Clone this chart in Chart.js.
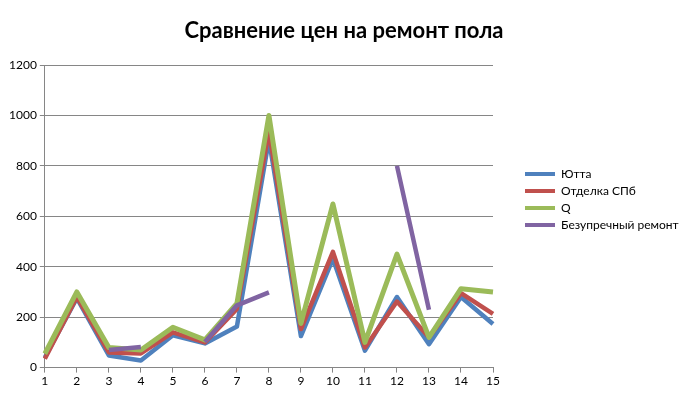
<!DOCTYPE html>
<html><head><meta charset="utf-8">
<script src="https://cdn.jsdelivr.net/npm/chart.js@4"></script>
<style>html,body{margin:0;padding:0;background:#fff}#w{width:689px;height:398px}</style>
</head><body><div id="w"><canvas id="c"></canvas></div>
<script>
const categories = ['1','2','3','4','5','6','7','8','9','10','11','12','13','14','15'];
const yutta   = [40, 275, 48, 28, 128, 96, 163, 905, 125, 432, 67, 280, 93, 280, 173];
const otdelka = [35, 280, 60, 56, 140, 100, 233, 938, 153, 459, 80, 262, 120, 295, 213];
const q       = [55, 300, 80, 70, 160, 110, 255, 1000, 175, 649, 100, 450, 120, 313, 300];
const bezupr  = [null, null, 70, 82, null, 102, 247, 298, null, null, null, 800, 229, null, null];
const seriesNames = ['Ютта', 'Отделка СПб', 'Q', 'Безупречный ремонт'];
const colors = ['#4F81BD', '#C0504D', '#9BBB59', '#8064A2'];
const yTicks = [0, 200, 400, 600, 800, 1000, 1200];
const titleText = 'Сравнение цен на ремонт пола';

const decorPlugin = {
  id: 'decor',
  afterDraw(chart) {
    const ctx = chart.ctx;
    ctx.save();
    ctx.font = 'bold 22px Lato, "DejaVu Sans", sans-serif';
    ctx.textAlign = 'center';
    ctx.textBaseline = 'middle';
    ctx.fillStyle = '#000';
    ctx.fillText(titleText, 344, 31);
    ctx.textAlign = 'left';
    ctx.font = '12px Lato, "DejaVu Sans", sans-serif';
    chart.data.datasets.forEach((ds, i) => {
      const y = 174 + i * 17;
      ctx.fillStyle = ds.borderColor;
      ctx.fillRect(525, y - 2, 30, 4);
      ctx.fillStyle = '#000';
      ctx.fillText(ds.label, 561, y);
    });
    ctx.restore();
  }
};

const data = [yutta, otdelka, q, bezupr];
new Chart(document.getElementById('c'), {
  type: 'line',
  data: {
    labels: categories,
    datasets: data.map((d, i) => ({
      label: seriesNames[i], data: d, borderColor: colors[i], backgroundColor: colors[i],
      borderWidth: i === 2 ? 5 : 4.5, pointRadius: 0, tension: 0, spanGaps: false,
      borderJoinStyle: 'round',
      order: [3, 2, 1, 0][i]
    }))
  },
  options: {
    responsive: true, maintainAspectRatio: false, animation: false,
    layout: { padding: { left: 6, right: 196, top: 65, bottom: 9 } },
    plugins: {
      legend: { display: false },
      tooltip: { enabled: false },
      title: { display: false }
    },
    scales: {
      x: {
        offset: false,
        grid: { display: true, drawOnChartArea: false, drawTicks: true, tickLength: 5, color: '#868686' },
        border: { color: '#868686', width: 1 },
        ticks: { color: '#000', font: { family: 'Lato, sans-serif', size: 12 }, padding: 1, maxRotation: 0, autoSkip: false }
      },
      y: {
        min: 0, max: 1200,
        afterBuildTicks(axis) { axis.ticks = yTicks.map(v => ({ value: v })); },
        grid: { color: '#868686', tickLength: 5 },
        border: { color: '#868686', width: 1 },
        ticks: { color: '#000', font: { family: 'Lato, sans-serif', size: 12 }, padding: 3,
          callback: v => String(v) }
      }
    }
  },
  plugins: [decorPlugin]
});
</script></body></html>
